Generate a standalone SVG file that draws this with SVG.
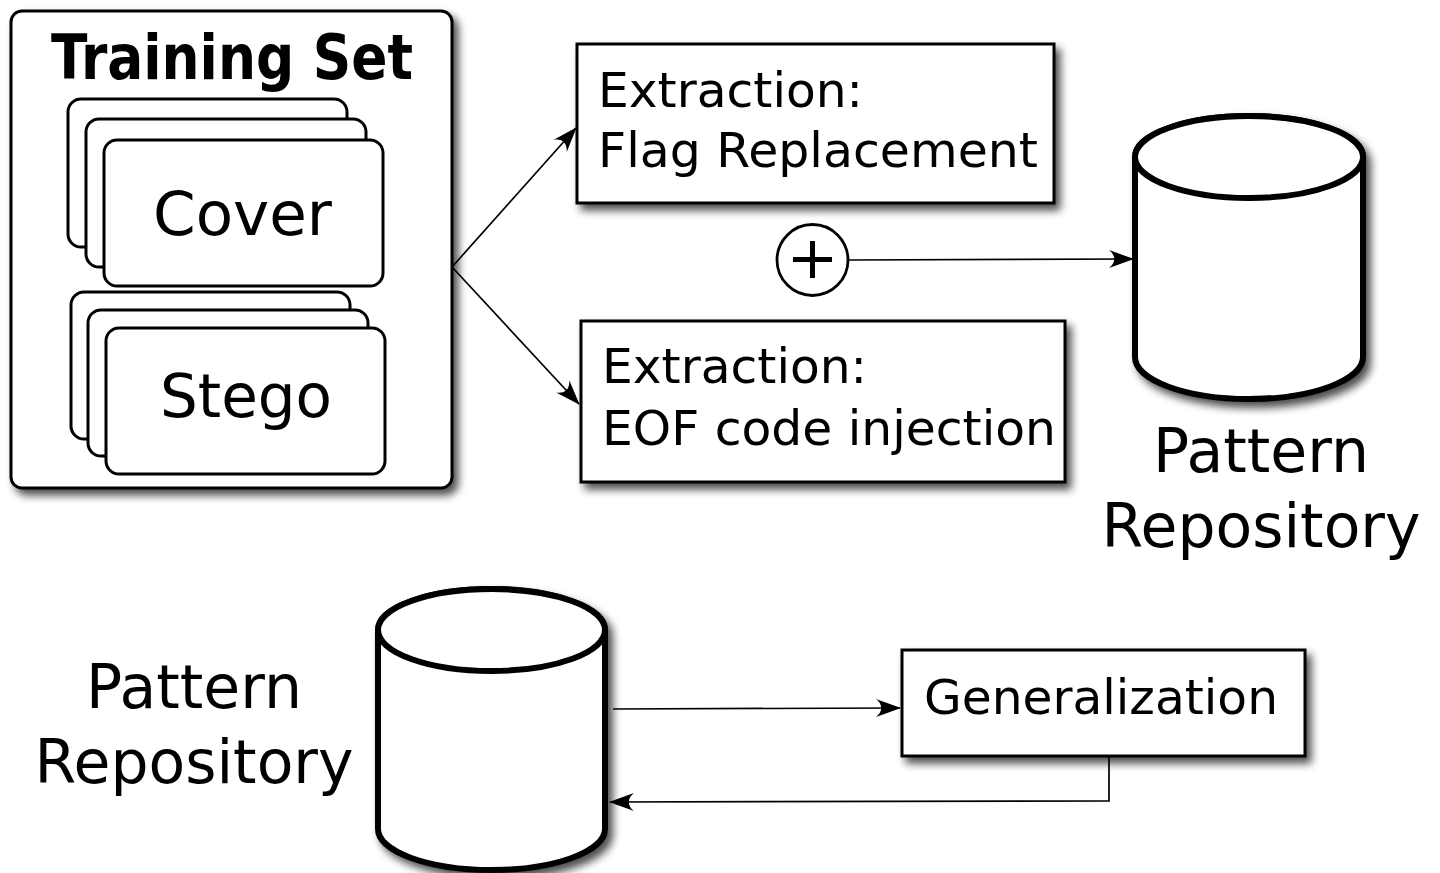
<svg xmlns="http://www.w3.org/2000/svg" width="1440" height="873" viewBox="0 0 1440 873">
<defs>
<filter id="sh" x="-10%" y="-10%" width="130%" height="130%">
<feGaussianBlur in="SourceAlpha" stdDeviation="4"/>
<feOffset dx="5" dy="6" result="b"/>
<feComponentTransfer><feFuncA type="linear" slope="0.7"/></feComponentTransfer>
<feMerge><feMergeNode/><feMergeNode in="SourceGraphic"/></feMerge>
</filter>
<marker id="arr" markerUnits="userSpaceOnUse" markerWidth="30" markerHeight="22" viewBox="-27 -11 30 22" refX="0" refY="0" orient="auto">
<path d="M1,0 L-24,-9 C-17,-3.5 -17,3.5 -24,9 Z" fill="#000"/>
</marker>
<style>
.t{font-family:"DejaVu Sans","Liberation Sans",sans-serif;fill:#000}
.ttl{font-family:"DejaVu Sans Condensed","DejaVu Sans","Liberation Sans",sans-serif;font-weight:bold;fill:#000}
.box{fill:#fff;stroke:#000;stroke-width:3}
.card{fill:#fff;stroke:#000;stroke-width:3}
.cyl{fill:#fff;stroke:#000;stroke-width:6}
.con{fill:none;stroke:#000;stroke-width:1.7}
</style>
</defs>
<rect width="1440" height="873" fill="#fff"/>

<g id="training-set">
<rect class="box" x="11" y="11" width="441" height="477" rx="11" filter="url(#sh)"/>
<text class="ttl" x="51" y="79" font-size="63" textLength="362" lengthAdjust="spacingAndGlyphs">Training Set</text>
</g>
<g id="cover">
<rect class="card" x="68" y="99" width="279" height="148" rx="13"/>
<rect class="card" x="86" y="119" width="280" height="148" rx="13"/>
<rect class="card" x="104" y="140" width="279" height="146" rx="13"/>
<text class="t" x="153" y="235" font-size="61" textLength="179" lengthAdjust="spacingAndGlyphs">Cover</text>
</g>
<g id="stego">
<rect class="card" x="71" y="292" width="279" height="147" rx="13"/>
<rect class="card" x="88" y="310" width="280" height="146" rx="13"/>
<rect class="card" x="106" y="328" width="279" height="146" rx="13"/>
<text class="t" x="160" y="417" font-size="60.5" textLength="172" lengthAdjust="spacingAndGlyphs">Stego</text>
</g>

<g id="extract-flag">
<rect class="box" x="577" y="44" width="477" height="159" filter="url(#sh)"/>
<text class="t" x="598" y="107" font-size="48.7">Extraction:</text>
<text class="t" x="598" y="167" font-size="48.7" textLength="440" lengthAdjust="spacingAndGlyphs">Flag Replacement</text>
</g>
<g id="extract-eof">
<rect class="box" x="581" y="321" width="484" height="161" filter="url(#sh)"/>
<text class="t" x="602" y="383" font-size="48.7">Extraction:</text>
<text class="t" x="602" y="445" font-size="48.7" textLength="454" lengthAdjust="spacingAndGlyphs">EOF code injection</text>
</g>
<g id="plus">
<circle cx="812.5" cy="260" r="35.5" fill="#fff" stroke="#000" stroke-width="2.8"/>
<path d="M793,259.5 H832 M812.5,241 V278" stroke="#000" stroke-width="5" fill="none"/>
</g>

<g id="repo-top">
<path class="cyl" filter="url(#sh)" d="M1135,157 V357 A114,42 0 0 0 1363,357 V157 A114,41 0 0 0 1135,157 Z"/>
<ellipse class="cyl" cx="1249" cy="157" rx="114" ry="41"/>
<text class="t" x="1261" y="472" font-size="60" text-anchor="middle">Pattern</text>
<text class="t" x="1261" y="547" font-size="60" text-anchor="middle">Repository</text>
</g>

<g id="repo-bottom">
<path class="cyl" filter="url(#sh)" d="M378,630 V829 A113.5,41 0 0 0 605,829 V630 A113.5,41 0 0 0 378,630 Z"/>
<ellipse class="cyl" cx="491.5" cy="630" rx="113.5" ry="41"/>
<text class="t" x="194" y="708" font-size="60" text-anchor="middle">Pattern</text>
<text class="t" x="194" y="783" font-size="60" text-anchor="middle">Repository</text>
</g>

<g id="generalization">
<rect class="box" x="902" y="650" width="403" height="106" filter="url(#sh)"/>
<text class="t" x="924" y="714" font-size="48.7" textLength="354" lengthAdjust="spacingAndGlyphs">Generalization</text>
</g>

<g id="connectors">
<line class="con" x1="452" y1="267" x2="576" y2="128" marker-end="url(#arr)"/>
<line class="con" x1="452" y1="267" x2="579" y2="404" marker-end="url(#arr)"/>
<line class="con" x1="849" y1="260" x2="1133" y2="259" marker-end="url(#arr)"/>
<line class="con" x1="613" y1="709" x2="900" y2="708" marker-end="url(#arr)"/>
<polyline class="con" points="1109,757 1109,801 610,802" marker-end="url(#arr)"/>
</g>
</svg>
